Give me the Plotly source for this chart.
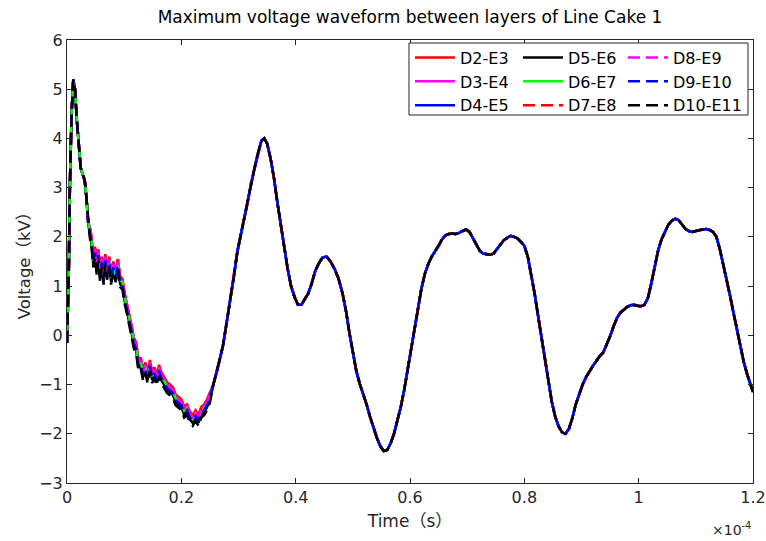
import plotly.graph_objects as go

# time in units of 1e-4 s
t = [0.000, 0.003, 0.005, 0.008, 0.011, 0.014, 0.017, 0.021, 0.024, 0.028, 0.031, 0.034, 0.037, 0.040,
     0.043, 0.046, 0.049, 0.052, 0.055, 0.058, 0.061, 0.064, 0.067, 0.070, 0.074, 0.077, 0.081, 0.085,
     0.089, 0.093, 0.097, 0.101, 0.105, 0.109, 0.113, 0.117, 0.121, 0.125, 0.129, 0.133, 0.137, 0.141,
     0.145, 0.149, 0.153, 0.157, 0.161, 0.165, 0.170, 0.175, 0.180, 0.185, 0.190, 0.195, 0.200, 0.205,
     0.210, 0.215, 0.220, 0.225, 0.230, 0.235, 0.240, 0.245, 0.250, 0.256, 0.262, 0.268, 0.273, 0.280,
     0.286, 0.292, 0.298, 0.304, 0.310, 0.316, 0.322, 0.328, 0.334, 0.340, 0.345, 0.350, 0.356, 0.362,
     0.368, 0.374, 0.380, 0.386, 0.392, 0.398, 0.404, 0.410, 0.416, 0.422, 0.428, 0.434, 0.440, 0.447,
     0.454, 0.461, 0.468, 0.475, 0.482, 0.488, 0.494, 0.500, 0.506, 0.512, 0.518, 0.524, 0.530, 0.536,
     0.542, 0.548, 0.554, 0.560, 0.566, 0.572, 0.578, 0.584, 0.590, 0.596, 0.602, 0.608, 0.614, 0.620,
     0.626, 0.632, 0.638, 0.644, 0.650, 0.656, 0.662, 0.668, 0.674, 0.680, 0.686, 0.692, 0.698, 0.704,
     0.710, 0.716, 0.722, 0.728, 0.734, 0.740, 0.746, 0.752, 0.758, 0.764, 0.770, 0.776, 0.782, 0.788,
     0.794, 0.800, 0.806, 0.812, 0.818, 0.824, 0.830, 0.836, 0.842, 0.848, 0.854, 0.860, 0.866, 0.872,
     0.878, 0.884, 0.890, 0.896, 0.902, 0.908, 0.914, 0.920, 0.926, 0.932, 0.938, 0.944, 0.950, 0.956,
     0.962, 0.968, 0.974, 0.980, 0.986, 0.992, 0.998, 1.004, 1.010, 1.016, 1.022, 1.028, 1.034, 1.040,
     1.046, 1.052, 1.058, 1.064, 1.070, 1.076, 1.082, 1.088, 1.094, 1.100, 1.106, 1.112, 1.118, 1.124,
     1.130, 1.136, 1.142, 1.148, 1.154, 1.160, 1.166, 1.172, 1.178, 1.184, 1.190, 1.196, 1.200]

# base waveform (kV)
v_base = [-0.15, 1.2, 3.0, 4.5, 5.2, 5.0, 4.4, 3.9, 3.4, 3.25, 3.15, 2.8, 2.3, 2.1,
          1.9, 1.5, 1.7, 1.35, 1.65, 1.2, 1.5, 1.15, 1.55, 1.25, 1.5, 1.15, 1.4, 1.2,
          1.45, 1.1, 1.05, 0.75, 0.55, 0.3, 0.1, -0.15, -0.25, -0.6, -0.55, -0.8, -0.65, -0.85,
          -0.6, -0.85, -0.75, -0.9, -0.7, -0.85, -0.95, -1.05, -1.1, -1.15, -1.3, -1.35, -1.4, -1.55,
          -1.5, -1.65, -1.72, -1.62, -1.72, -1.55, -1.5, -1.4, -1.25, -1.0, -0.75, -0.45, -0.2, 0.3,
          0.75, 1.2, 1.7, 2.05, 2.35, 2.7, 3.1, 3.4, 3.7, 3.95, 4.0, 3.9, 3.6, 3.2,
          2.7, 2.2, 1.8, 1.35, 1.0, 0.78, 0.62, 0.62, 0.75, 0.85, 1.05, 1.3, 1.45, 1.58,
          1.6, 1.5, 1.35, 1.15, 0.85, 0.5, 0.05, -0.37, -0.72, -0.98, -1.18, -1.4, -1.65, -1.88,
          -2.08, -2.25, -2.35, -2.33, -2.2, -2.0, -1.75, -1.45, -1.1, -0.7, -0.25, 0.15, 0.55, 0.95,
          1.25, 1.45, 1.6, 1.7, 1.82, 1.95, 2.03, 2.06, 2.07, 2.06, 2.08, 2.12, 2.15, 2.1,
          1.98, 1.85, 1.72, 1.66, 1.65, 1.64, 1.66, 1.75, 1.85, 1.93, 1.98, 2.02, 2.0, 1.97,
          1.9, 1.82, 1.6, 1.25, 0.85, 0.4, -0.05, -0.5, -0.95, -1.35, -1.65, -1.85, -1.97, -2.0,
          -1.9, -1.68, -1.4, -1.18, -1.0, -0.85, -0.72, -0.62, -0.52, -0.42, -0.35, -0.2, -0.02, 0.18,
          0.35, 0.46, 0.53, 0.58, 0.61, 0.62, 0.6, 0.59, 0.62, 0.75, 1.05, 1.4, 1.72, 1.95,
          2.12, 2.25, 2.33, 2.37, 2.34, 2.25, 2.16, 2.12, 2.1, 2.12, 2.14, 2.15, 2.16, 2.14,
          2.1, 2.0, 1.75, 1.45, 1.15, 0.8, 0.45, 0.1, -0.25, -0.55, -0.8, -1.0, -1.15]

series_names = ["D2-E3", "D3-E4", "D4-E5", "D5-E6", "D6-E7", "D7-E8", "D8-E9", "D9-E10", "D10-E11"]
series_colors = ["#ff0000", "#ff00ff", "#0000ff", "#000000", "#00ff00", "#ff0000", "#ff00ff", "#0000ff", "#000000"]
series_dash = ["solid", "solid", "solid", "solid", "solid", "12px,6px", "12px,6px", "12px,6px", "12px,6px"]
# small level shifts of each series in the ripple region (0.04 .. 0.25 x1e-4 s)
series_shift = [0.10, 0.06, 0.0, -0.06, 0.02, 0.08, 0.05, -0.02, -0.12]
series_legend = ["legend", "legend", "legend", "legend2", "legend2", "legend2", "legend3", "legend3", "legend3"]

FONT = "DejaVu Sans, Noto Sans CJK SC, sans-serif"
CJK = "Noto Sans CJK SC"
AX = "#262626"
W, H = 766, 541


def fw(ch):
    return f"<span style='font-family:{CJK}'>{ch}</span>"


fig = go.Figure()
for name, col, dash, sh, lg in zip(series_names, series_colors, series_dash, series_shift, series_legend):
    v = [vb + (sh if 0.04 <= tt <= 0.25 else 0.0) for tt, vb in zip(t, v_base)]
    fig.add_trace(go.Scatter(x=t, y=v, mode="lines", name=name, legend=lg,
                             line=dict(color=col, width=2.5, dash=dash)))

leg_common = dict(yanchor="top", bgcolor="rgba(0,0,0,0)", borderwidth=0,
                  font=dict(family=FONT, size=16, color="#000"), tracegroupgap=0, itemwidth=40)
leg_top = 0.9985
fig.update_layout(
    width=W, height=H,
    margin=dict(l=67, r=13, t=40, b=58, autoexpand=False),
    paper_bgcolor="white", plot_bgcolor="white",
    font=dict(family=FONT, color=AX),
    title=dict(text="Maximum voltage waveform between layers of Line Cake 1",
               x=410 / W, xanchor="center", y=1 - 17 / H, yanchor="middle",
               font=dict(family=FONT, size=17, color="#000")),
    legend=dict(x=0.5, y=leg_top, xanchor="left", **leg_common),
    legend2=dict(x=0.6574, y=leg_top, xanchor="left", **leg_common),
    legend3=dict(x=0.9913, y=leg_top, xanchor="right", **leg_common),
    xaxis=dict(range=[0, 1.2], tickvals=[0, 0.2, 0.4, 0.6, 0.8, 1.0, 1.2],
               ticktext=["0", "0.2", "0.4", "0.6", "0.8", "1", "1.2"], automargin=False,
               ticks="inside", ticklen=5, tickcolor=AX, showline=True, linecolor=AX, linewidth=1,
               mirror="ticks", showgrid=False, zeroline=False,
               tickfont=dict(family=FONT, size=16, color=AX),
               title=dict(text="Time" + fw("（") + "s" + fw("）"),
                          font=dict(family=FONT, size=17, color=AX), standoff=6)),
    yaxis=dict(range=[-3, 6], tickvals=list(range(-3, 7)), automargin=False,
               ticks="inside", ticklen=5, tickcolor=AX, showline=True, linecolor=AX, linewidth=1,
               mirror="ticks", showgrid=False, zeroline=False,
               tickfont=dict(family=FONT, size=16, color=AX),
               title=dict(text="Voltage" + fw("（") + "kV" + fw("）"),
                          font=dict(family=FONT, size=16.5, color=AX), standoff=4)),
    shapes=[dict(type="rect", xref="paper", yref="paper", x0=0.4985, x1=0.9927, y0=0.8307, y1=0.9932,
                 line=dict(color=AX, width=1), fillcolor="white", layer="above")],
    annotations=[dict(text="×10<sup>-4</sup>", xref="paper", yref="paper", x=1.0, y=-0.08,
                      xanchor="right", yanchor="top", showarrow=False,
                      font=dict(family=FONT, size=14, color=AX))],
)

fig.write_html("out.html")
